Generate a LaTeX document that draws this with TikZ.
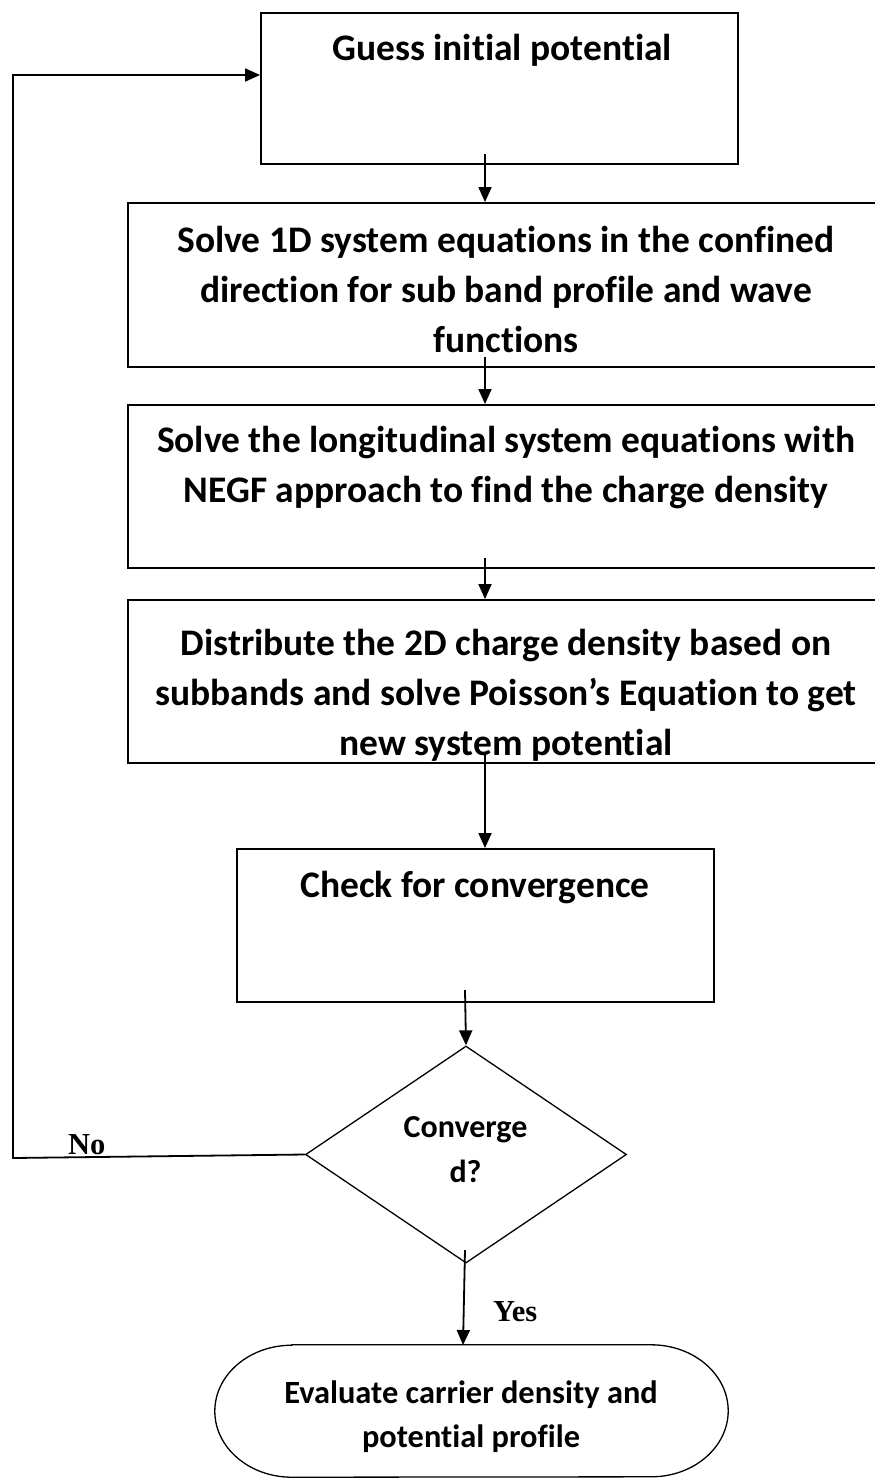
\documentclass[tikz,border=0pt]{standalone}
\usepackage{fontspec}
\setmainfont{Carlito}[Ligatures=NoCommon]
\newfontfamily\labfont{Liberation Serif}
\usetikzlibrary{arrows.meta,shapes.geometric}
\begin{document}
\begin{tikzpicture}[x=1pt,y=-1pt,
  box/.style={draw,line width=1.9pt,rectangle,inner sep=0pt},
  txt/.style={align=center,font=\bfseries\fontsize{37.5}{50}\selectfont,inner sep=0pt,anchor=base},
  flow/.style={line width=1.8pt,-{Triangle[length=15pt,width=13pt]}},
  lab/.style={font=\labfont\bfseries\fontsize{30.5}{32}\selectfont,inner sep=0pt,anchor=base west}]
\useasboundingbox (0,0) rectangle (875,1481);

% process boxes (text nodes are anchored at the baseline of their last line)
\node[box,minimum width=477pt,minimum height=151pt] (b1) at (499.5,88.5) {};
\node[txt] (t1) at (502,60) {Guess initial potential};
\node[box,minimum width=760pt,minimum height=164pt] (b2) at (508,285) {};
\node[txt] (t2) at (506,352) {Solve 1D system equations in the confined\\direction for sub band profile and wave\\functions};
\node[box,minimum width=760pt,minimum height=163pt] (b3) at (508,486.5) {};
\node[txt] (t3) at (506,502) {Solve the longitudinal system equations with\\NEGF approach to find the charge density};
\node[box,minimum width=760pt,minimum height=163pt] (b4) at (508,681.5) {};
\node[txt] (t4) at (506,755) {Distribute the 2D charge density based on\\subbands and solve Poisson’s Equation to get\\new system potential};
\node[box,minimum width=477pt,minimum height=153pt] (b5) at (475.5,925.5) {};
\node[txt] (t5) at (475,897) {Check for convergence};

% decision
\node[draw,line width=1.3pt,diamond,aspect=1.48,minimum width=321pt,minimum height=217pt,inner sep=0pt] (d) at (466,1154.5) {};
\node[align=center,font=\bfseries\fontsize{32}{45}\selectfont,inner sep=0pt,anchor=base] (dt) at (465.5,1182) {Converge\\d?};

% terminal
\node[minimum width=513pt,minimum height=132pt,inner sep=0pt] (e) at (471.5,1411) {};
\draw[line width=1.3pt] ([xshift=77pt]e.north west) -- ([xshift=-77pt]e.north east)
  arc[start angle=90,end angle=-90,x radius=77pt,y radius=66pt]
  -- ([xshift=77pt]e.south west)
  arc[start angle=-90,end angle=-270,x radius=77pt,y radius=66pt] -- cycle;
\node[align=center,font=\bfseries\fontsize{32.4}{44}\selectfont,inner sep=0pt,anchor=base] (et) at (471,1447) {Evaluate carrier density and\\potential profile};

% forward connectors
\coordinate (s1) at (485,154);
\draw[flow] (s1) -- (b2.north -| s1);
\coordinate (s2) at (485,357);
\draw[flow] (s2) -- (b3.north -| s2);
\coordinate (s3) at (485,558);
\draw[flow] (s3) -- (b4.north -| s3);
\coordinate (s4) at (485,753);
\draw[flow] (s4) -- (b5.north -| s4);
\coordinate (s5) at (465,990);
\draw[flow] (s5) -- (d.north);
\coordinate (s6) at (465,1250);
\coordinate (e6) at (463,1345);
\draw[flow] (s6) -- (e6);
\node[lab] (yes) at (493,1321) {Yes};

% feedback loop
\coordinate (c1) at (13,1158);
\coordinate (c2) at (13,75);
\draw[flow] (d.west) -- (c1) -- (c2) -- (c2 -| b1.west);
\node[lab] (no) at (68,1154) {No};
\end{tikzpicture}
\end{document}
